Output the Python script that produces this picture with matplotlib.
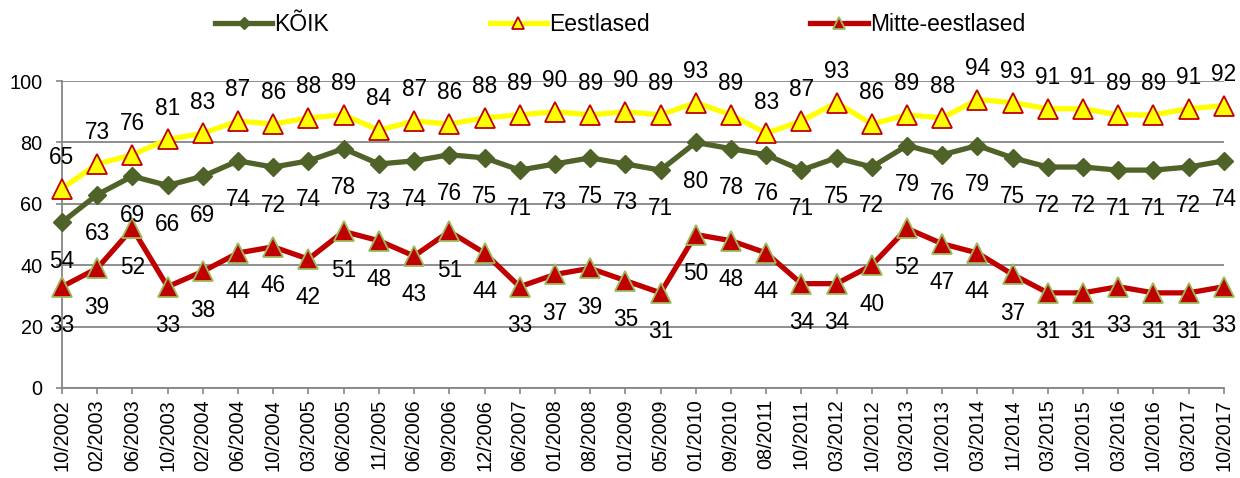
import matplotlib
matplotlib.use("Agg")
import matplotlib.pyplot as plt
import numpy as np

plt.rcParams['font.family'] = ['Liberation Sans', 'DejaVu Sans']

dates = ["10/2002", "02/2003", "06/2003", "10/2003", "02/2004", "06/2004", "10/2004",
         "03/2005", "06/2005", "11/2005", "06/2006", "09/2006", "12/2006", "06/2007",
         "01/2008", "08/2008", "01/2009", "05/2009", "01/2010", "09/2010", "08/2011",
         "10/2011", "03/2012", "10/2012", "03/2013", "10/2013", "03/2014", "11/2014",
         "03/2015", "10/2015", "03/2016", "10/2016", "03/2017", "10/2017"]

koik = [54, 63, 69, 66, 69, 74, 72, 74, 78, 73, 74, 76, 75, 71, 73, 75, 73, 71,
        80, 78, 76, 71, 75, 72, 79, 76, 79, 75, 72, 72, 71, 71, 72, 74]
eestlased = [65, 73, 76, 81, 83, 87, 86, 88, 89, 84, 87, 86, 88, 89, 90, 89, 90, 89,
             93, 89, 83, 87, 93, 86, 89, 88, 94, 93, 91, 91, 89, 89, 91, 92]
mitte = [33, 39, 52, 33, 38, 44, 46, 42, 51, 48, 43, 51, 44, 33, 37, 39, 35, 31,
         50, 48, 44, 34, 34, 40, 52, 47, 44, 37, 31, 31, 33, 31, 31, 33]

GREEN = "#4F6228"
YELLOW = "#FFFF00"
RED = "#C00000"
LGREEN = "#9BBB59"
GRID = "#868686"

fig = plt.figure(figsize=(12.4, 4.78), dpi=100)
ax = fig.add_axes([0.05, 0.1883, 0.937, 0.642])

x = np.arange(len(dates))

ax.plot(x, koik, color=GREEN, lw=3.8, marker="D", markersize=9.5,
        markerfacecolor=GREEN, markeredgecolor=GREEN, markeredgewidth=1,
        label="KÕIK", clip_on=False, zorder=3)
ax.plot(x, eestlased, color=YELLOW, lw=3.8, marker="^", markersize=14,
        markerfacecolor=YELLOW, markeredgecolor=RED, markeredgewidth=1.3,
        label="Eestlased", clip_on=False, zorder=3)
ax.plot(x, mitte, color=RED, lw=3.8, marker="^", markersize=14,
        markerfacecolor=RED, markeredgecolor=LGREEN, markeredgewidth=1.3,
        label="Mitte-eestlased", clip_on=False, zorder=3)

# data labels
for i in x:
    ax.annotate(str(eestlased[i]), (i, eestlased[i]), xytext=(0, 22.5),
                textcoords="offset points", ha="center", va="center", fontsize=16.3)
    ax.annotate(str(koik[i]), (i, koik[i]), xytext=(0, -28),
                textcoords="offset points", ha="center", va="center", fontsize=16.3)
    ax.annotate(str(mitte[i]), (i, mitte[i]), xytext=(0, -28),
                textcoords="offset points", ha="center", va="center", fontsize=16.3)

ax.set_xlim(0, len(dates) - 1)
ax.set_ylim(0, 100)
ax.set_yticks(np.arange(0, 101, 20))
ax.set_xticks(x)
ax.set_xticklabels(dates, rotation=90, fontsize=14.3)
ax.tick_params(axis="y", labelsize=14.3, length=4, width=1.2, color=GRID, pad=10)
ax.tick_params(axis="x", length=4, width=1.2, color=GRID, pad=4)

ax.grid(axis="y", color=GRID, lw=1.3)
ax.set_axisbelow(True)
for s in ["top", "right"]:
    ax.spines[s].set_visible(False)
for s in ["left", "bottom"]:
    ax.spines[s].set_color(GRID)
    ax.spines[s].set_linewidth(1.3)

fig.legend(loc="center", bbox_to_anchor=(0.5, 0.948), ncol=3, frameon=False,
           fontsize=16.5, handlelength=2.5, handletextpad=0.1, columnspacing=7.0,
           markerscale=0.65)

plt.savefig("out.png", dpi=100)
